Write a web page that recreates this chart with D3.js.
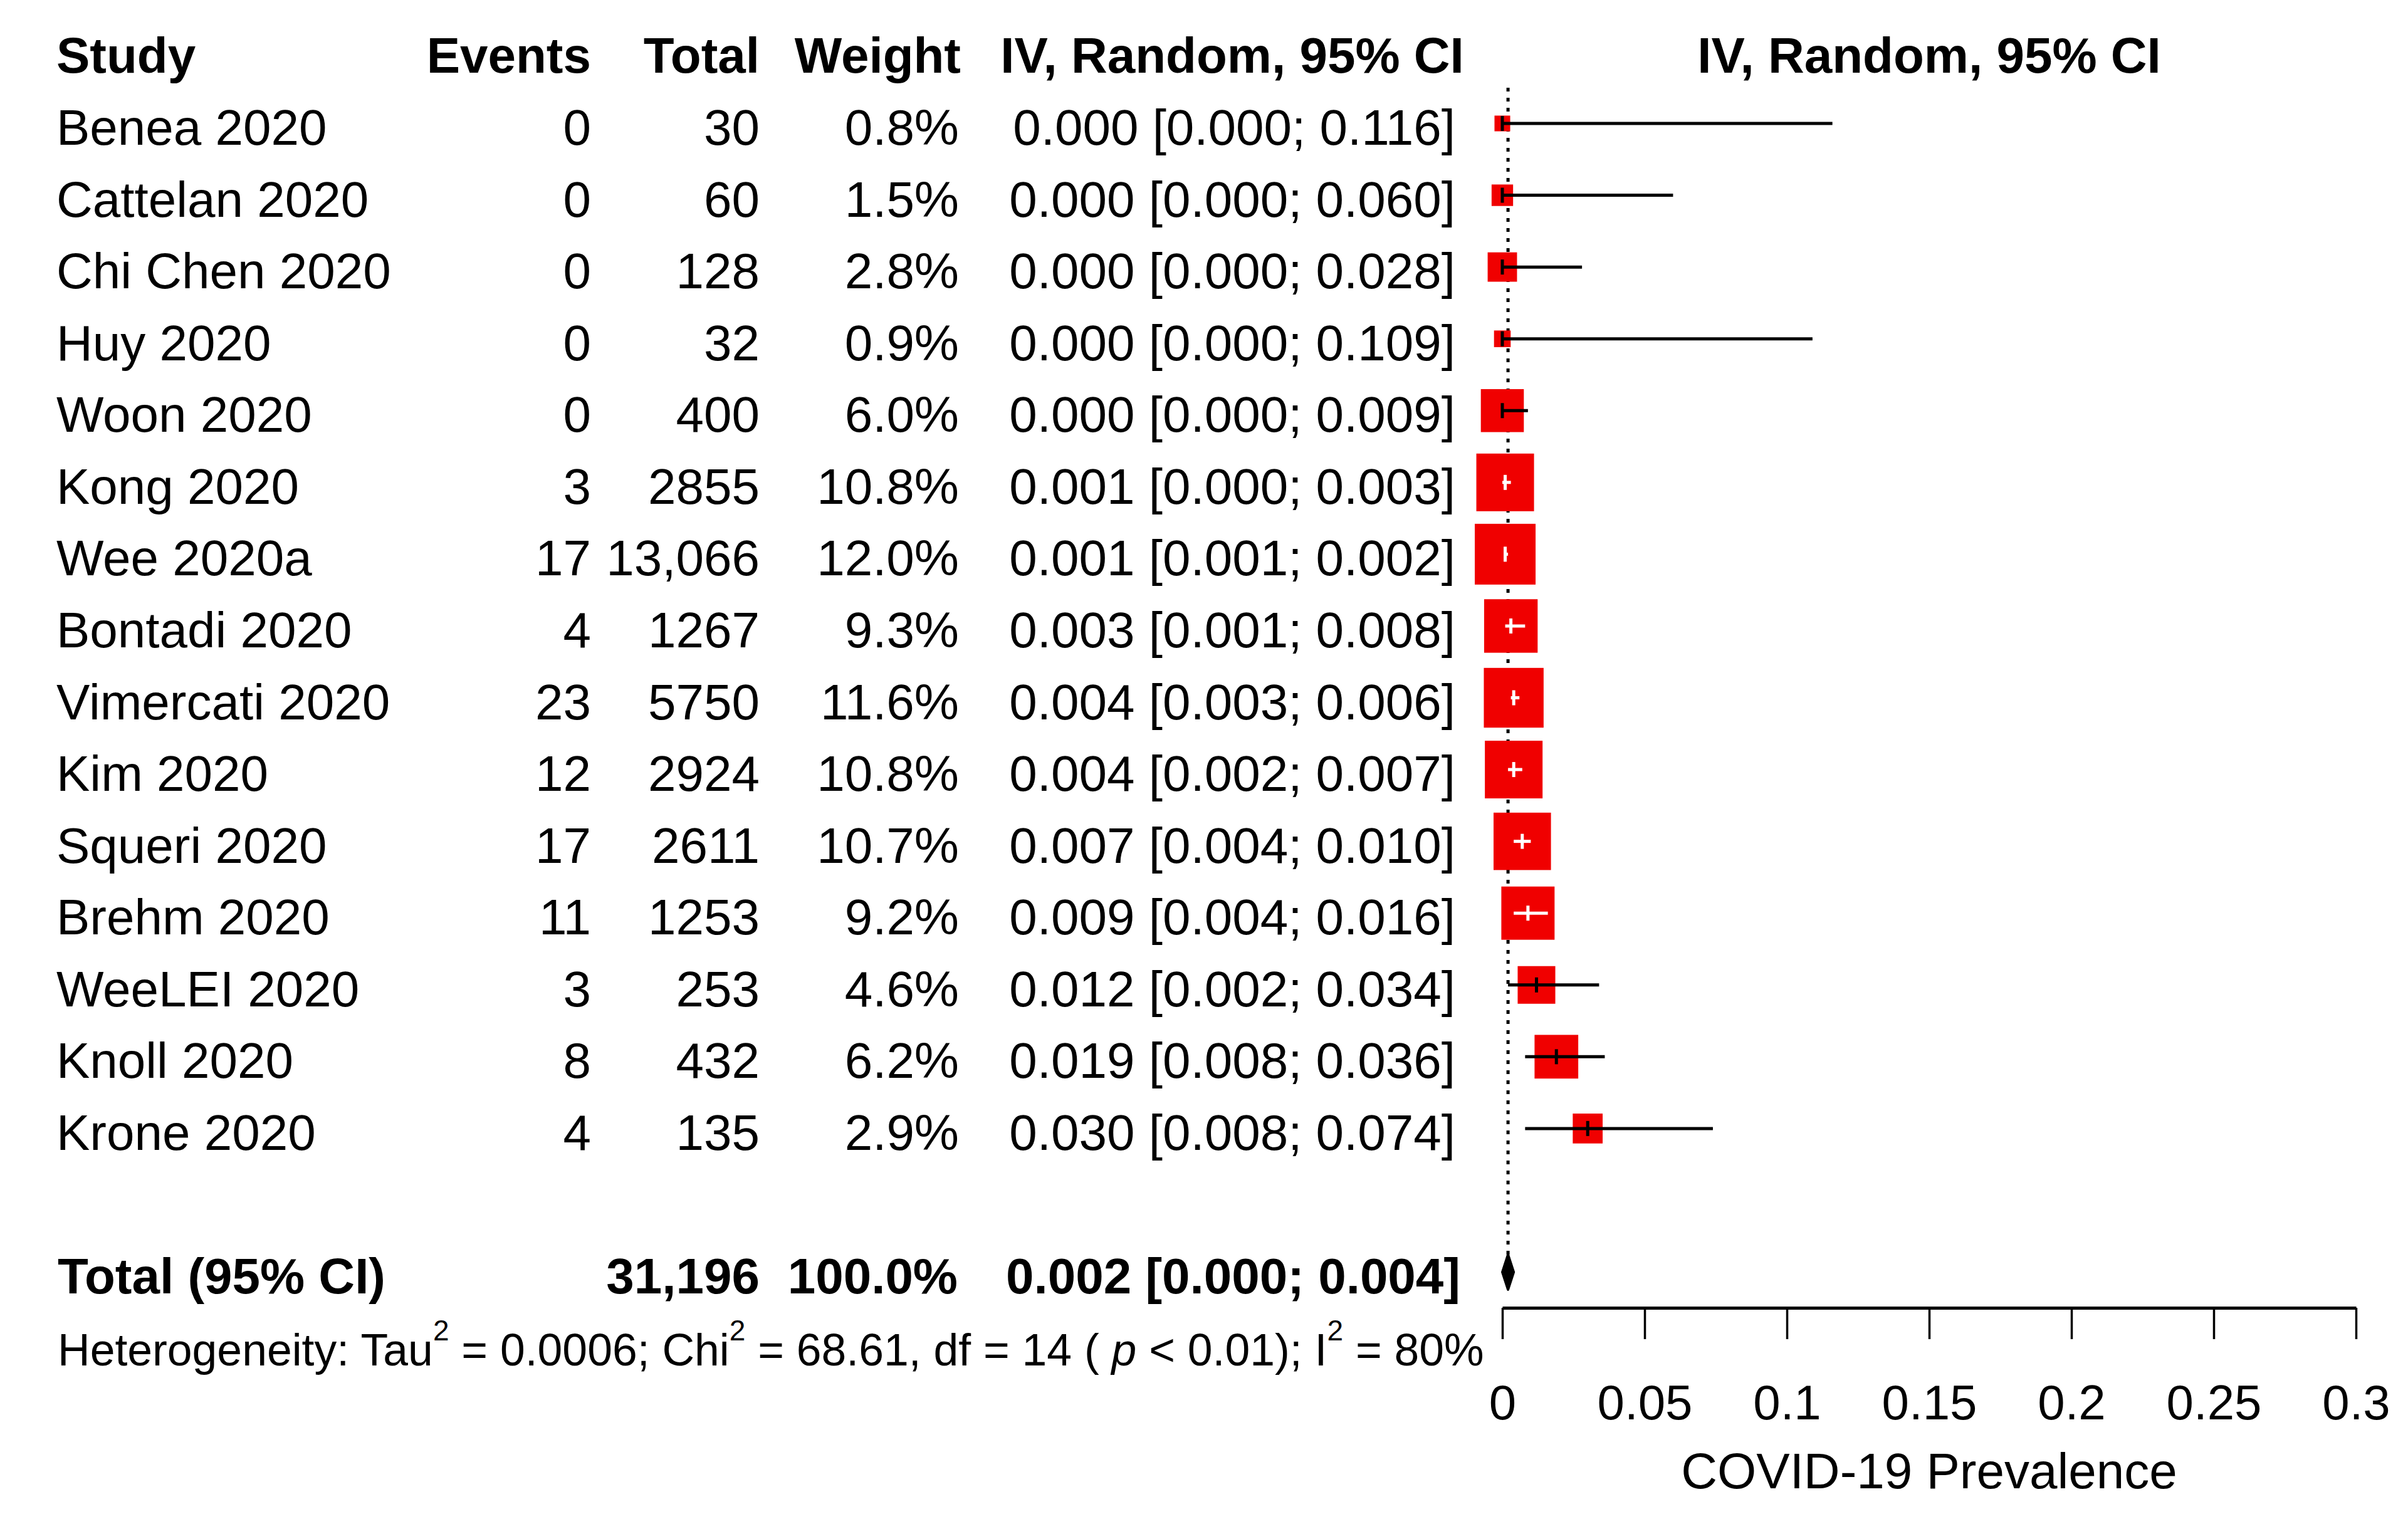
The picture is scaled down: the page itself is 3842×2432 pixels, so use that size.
<!DOCTYPE html>
<html><head><meta charset="utf-8">
<script src="https://cdn.jsdelivr.net/npm/d3@7"></script>
<style>
body{margin:0;background:#fff}
svg{display:block}
text{font-family:"Liberation Sans", Arial, Helvetica, sans-serif; fill:#000}
</style>
</head><body>
<svg id="chart" width="3842" height="2432" viewBox="0 0 3842 2432"></svg>
<script>
// ---------- data ----------
const studies = ["Benea 2020","Cattelan 2020","Chi Chen 2020","Huy 2020","Woon 2020","Kong 2020","Wee 2020a","Bontadi 2020","Vimercati 2020","Kim 2020","Squeri 2020","Brehm 2020","WeeLEI 2020","Knoll 2020","Krone 2020"];
const events = [0,0,0,0,0,3,17,4,23,12,17,11,3,8,4];
const totals = [30,60,128,32,400,2855,13066,1267,5750,2924,2611,1253,253,432,135];
const weights = [0.8,1.5,2.8,0.9,6.0,10.8,12.0,9.3,11.6,10.8,10.7,9.2,4.6,6.2,2.9];
const estimates = [0.000,0.000,0.000,0.000,0.000,0.001,0.001,0.003,0.004,0.004,0.007,0.009,0.012,0.019,0.030];
const lowers = [0.000,0.000,0.000,0.000,0.000,0.000,0.001,0.001,0.003,0.002,0.004,0.004,0.002,0.008,0.008];
const uppers = [0.116,0.060,0.028,0.109,0.009,0.003,0.002,0.008,0.006,0.007,0.010,0.016,0.034,0.036,0.074];
const pooledTotal = 31196, pooledWeight = 100.0;
const pooledEst = 0.002, pooledLower = 0.000, pooledUpper = 0.004;
const xTicks = [0,0.05,0.1,0.15,0.2,0.25,0.3];
const headers = ["Study","Events","Total","Weight","IV, Random, 95% CI"];
const plotHeader = "IV, Random, 95% CI";
const xTitle = "COVID-19 Prevalence";
const totalLabel = "Total (95% CI)";
const hetParts = [
  {t:"Heterogeneity: Tau"},{t:"2",sup:true},{t:" = 0.0006; Chi"},{t:"2",sup:true},
  {t:" = 68.61, df = 14 ( "},{t:"p",it:true},{t:" < 0.01); I"},{t:"2",sup:true},{t:" = 80%"}
];

// ---------- layout ----------
const svg = d3.select("#chart");
const FS = 80;
const totalRow = 16;
const x = d3.scaleLinear().domain([0, 0.3]).range([2397, 3759]);
const y = d3.scaleLinear().domain([0, totalRow]).range([197, 2030]); // row centre by row index
const base = i => y(i) + 34;                                          // text baseline for row
const side = d3.scaleSqrt().domain([0, 12]).range([0, 97]);

const colX = {study: 90, events: 943, total: 1212, weight: 1530, ci: 2322};
const fmt3 = d3.format(".3f");
const fmtW = d => d3.format(".1f")(d) + "%";
const fmtN = n => n >= 10000 ? d3.format(",")(n) : String(n);

// headers
const hdr = svg.append("g").attr("font-weight", "bold").attr("font-size", FS);
hdr.append("text").attr("x", colX.study).attr("y", base(-1)).text(headers[0]);
hdr.append("text").attr("x", colX.events).attr("y", base(-1)).attr("text-anchor","end").text(headers[1]);
hdr.append("text").attr("x", colX.total).attr("y", base(-1)).attr("text-anchor","end").text(headers[2]);
hdr.append("text").attr("x", 1533).attr("y", base(-1)).attr("text-anchor","end").text(headers[3]);
hdr.append("text").attr("x", 1966).attr("y", base(-1)).attr("text-anchor","middle").text(headers[4]);
hdr.append("text").attr("x", x(0.15)).attr("y", base(-1)).attr("text-anchor","middle").text(plotHeader);

// study rows text
const rows = svg.append("g").attr("font-size", FS);
studies.forEach((s, i) => {
  rows.append("text").attr("x", colX.study).attr("y", base(i)).text(s);
  rows.append("text").attr("x", colX.events).attr("y", base(i)).attr("text-anchor","end").text(events[i]);
  rows.append("text").attr("x", colX.total).attr("y", base(i)).attr("text-anchor","end").text(fmtN(totals[i]));
  rows.append("text").attr("x", colX.weight).attr("y", base(i)).attr("text-anchor","end").text(fmtW(weights[i]));
  rows.append("text").attr("x", colX.ci).attr("y", base(i)).attr("text-anchor","end")
      .text(`${fmt3(estimates[i])} [${fmt3(lowers[i])}; ${fmt3(uppers[i])}]`);
});

// total row
const tot = svg.append("g").attr("font-size", FS).attr("font-weight","bold");
tot.append("text").attr("x", 92).attr("y", base(totalRow)).text(totalLabel);
tot.append("text").attr("x", colX.total).attr("y", base(totalRow)).attr("text-anchor","end").text(fmtN(pooledTotal));
tot.append("text").attr("x", 1528).attr("y", base(totalRow)).attr("text-anchor","end").text(fmtW(pooledWeight));
tot.append("text").attr("x", 2330).attr("y", base(totalRow)).attr("text-anchor","end")
   .text(`${fmt3(pooledEst)} [${fmt3(pooledLower)}; ${fmt3(pooledUpper)}]`);

// heterogeneity
const het = svg.append("text").attr("x", 92).attr("y", 2179).attr("font-size", 71.5);
let raised = false;
hetParts.forEach(p => {
  const ts = het.append("tspan").text(p.t);
  if (p.sup) { ts.attr("font-size", 46).attr("dy", -40); raised = true; }
  else if (raised) { ts.attr("dy", 40); raised = false; }
  if (p.it) ts.attr("font-style", "italic");
});

// pooled reference line (dotted)
const yT = y(totalRow);
const dH = 28;
svg.append("line")
  .attr("x1", x(pooledEst)).attr("x2", x(pooledEst))
  .attr("y1", 140).attr("y2", yT - dH)
  .attr("stroke", "#000").attr("stroke-width", 5).attr("stroke-dasharray", "6 10");

// study squares & CIs
const marks = svg.append("g");
studies.forEach((s, i) => {
  const cy = y(i), cx = x(estimates[i]), sz = side(weights[i]);
  marks.append("rect").attr("x", cx - sz/2).attr("y", cy - sz/2).attr("width", sz).attr("height", sz).attr("fill", "#f00000");
  const inside = x(lowers[i]) >= cx - sz/2 && x(uppers[i]) <= cx + sz/2;
  const col = inside ? "#fff" : "#000";
  marks.append("line").attr("x1", x(lowers[i])).attr("x2", x(uppers[i])).attr("y1", cy).attr("y2", cy)
       .attr("stroke", col).attr("stroke-width", 5);
  marks.append("line").attr("x1", cx).attr("x2", cx).attr("y1", cy - 12).attr("y2", cy + 12)
       .attr("stroke", col).attr("stroke-width", 5);
});

// diamond
svg.append("path")
  .attr("d", d3.line()([[x(pooledLower), yT],[x(pooledEst), yT - dH],[x(pooledUpper), yT],[x(pooledEst), yT + dH]]) + "Z")
  .attr("fill", "#000").attr("stroke", "#000").attr("stroke-width", 4).attr("stroke-linejoin", "round");

// axis
const axisY = 2087;
const ax = svg.append("g").attr("transform", `translate(0,${axisY})`)
  .call(d3.axisBottom(x).tickValues(xTicks).tickFormat(d3.format("~g")).tickSize(50).tickSizeOuter(0));
ax.select(".domain").attr("stroke-width", 5).attr("stroke", "#000");
ax.selectAll(".tick line").attr("stroke-width", 3.5).attr("stroke", "#000");
ax.selectAll(".tick text").attr("font-size", 78).attr("font-family", "Liberation Sans, Arial, sans-serif")
  .attr("y", 2265 - axisY).attr("dy", 0).attr("fill", "#000");

svg.append("text").attr("x", x(0.15)).attr("y", 2375).attr("text-anchor","middle").attr("font-size", FS).text(xTitle);
</script>
</body></html>
